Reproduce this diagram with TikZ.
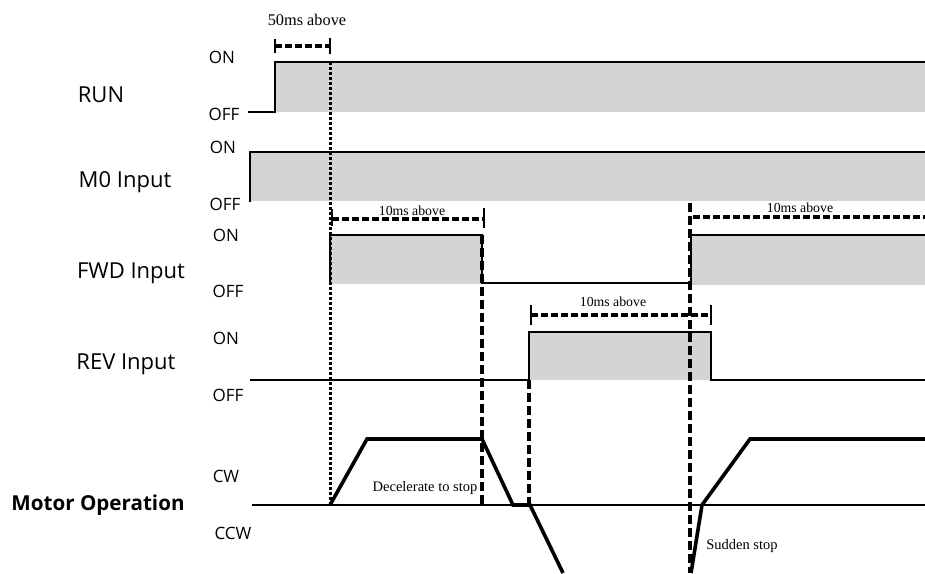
\documentclass[tikz,border=0pt]{standalone}
\usepackage{fontspec}
\setmainfont{Liberation Serif}
\newfontfamily\lbl{Open Sans}
\begin{document}
\begin{tikzpicture}[x=1pt,y=-1pt,
  sig/.style={line width=2.8pt,line cap=rect},
  baseline/.style={line width=2pt},
  mot/.style={line width=3.6pt,line join=miter},
  zone/.style={fill=black!17,draw=none},
  dsh/.style={line width=3.4pt,dash pattern=on 7pt off 3pt},
  dsv/.style={line width=3.4pt,dash pattern=on 9pt off 4pt},
  dotv/.style={line width=3pt,dash pattern=on 3pt off 2pt},
  tickm/.style={line width=2pt},
  signame/.style={font=\lbl\fontsize{22}{24}\selectfont,anchor=center},
  lvl/.style={font=\lbl\fontsize{17}{19}\selectfont,anchor=center},
  note/.style={font=\fontsize{13.8}{15}\selectfont,anchor=center}]
\useasboundingbox (0,0) rectangle (925,573);
\fill[white] (0,0) rectangle (925,573);
% shaded ON zones
\fill[zone] (276,63) rectangle (925,112);
\fill[zone] (251,153) rectangle (925,201);
\fill[zone] (331,236) rectangle (482,284);
\fill[zone] (692,236) rectangle (925,285);
\fill[zone] (530,333) rectangle (711,380);
% labels
\node[signame] (run) at (101,95) {RUN};
\node[signame] (m0) at (125,182) {M0 Input};
\node[signame] (fwd) at (131,273) {FWD Input};
\node[signame] (rev) at (126,364) {REV Input};
\node[signame,font=\lbl\bfseries\fontsize{20.6}{24}\selectfont] (mot) at (98,505) {Motor Operation};
\node[lvl] (on1) at (222,57) {ON};
\node[lvl] (off1) at (224,114) {OFF};
\node[lvl] (on2) at (223,147) {ON};
\node[lvl] (off2) at (225,204) {OFF};
\node[lvl] (on3) at (226,235) {ON};
\node[lvl] (off3) at (228,291) {OFF};
\node[lvl] (on4) at (226,338) {ON};
\node[lvl] (off4) at (228,395) {OFF};
\node[lvl] (cw) at (226,476) {CW};
\node[lvl] (ccw) at (233,533) {CCW};
% waveforms
\draw[baseline] (248,112) -- (275,112);
\draw[sig] (275,112) -- (275,62) -- (925,62);
\draw[sig] (250,201) -- (250,152) -- (925,152);
\draw[sig] (330,284) -- (330,235) -- (482,235) -- (482,283);
\draw[baseline] (482,283) -- (690,283);
\draw[sig] (691,284) -- (691,235) -- (925,235);
\draw[baseline] (250,380) -- (529,380);
\draw[sig] (529,381) -- (529,332) -- (711,332) -- (711,380);
\draw[baseline] (711,380) -- (925,380);
\draw[baseline] (252,505) -- (925,505);
\draw[mot] (330,505) -- (367,439) -- (482,439) -- (513,505) -- (530,505) -- (563,573);
\draw[mot] (691,573) -- (702,505) -- (750,439) -- (925,439);
% timing guides
\draw[dotv] (330,62) -- (330,505);
\draw[dsv] (482,235) -- (482,507);
\draw[dsv] (529,380) -- (529,510);
\draw[dsv] (690,203) -- (690,573);
% interval markers
\draw[dsh] (275,46) -- (330,46);
\draw[tickm] (275,39) -- (275,53);
\draw[tickm] (330,38) -- (330,54);
\node[note,font=\fontsize{16.3}{18}\selectfont] (t50) at (307,20) {50ms above};
\draw[dsh] (332,219) -- (484,219);
\draw[tickm] (332,209) -- (332,226);
\draw[tickm] (484,208) -- (484,228);
\node[note] (t10a) at (412,211) {10ms above};
\draw[dsh] (693,217) -- (925,217);
\node[note] (t10b) at (800,208) {10ms above};
\draw[dsh] (531,315) -- (711,315);
\draw[tickm] (531,305) -- (531,325);
\draw[tickm] (711,305) -- (711,325);
\node[note] (t10c) at (613,302) {10ms above};
\node[note,font=\fontsize{14.5}{16}\selectfont] (dec) at (425,488) {Decelerate to stop};
\node[note,font=\fontsize{14.5}{16}\selectfont] (sud) at (742,546) {Sudden stop};
\end{tikzpicture}
\end{document}
